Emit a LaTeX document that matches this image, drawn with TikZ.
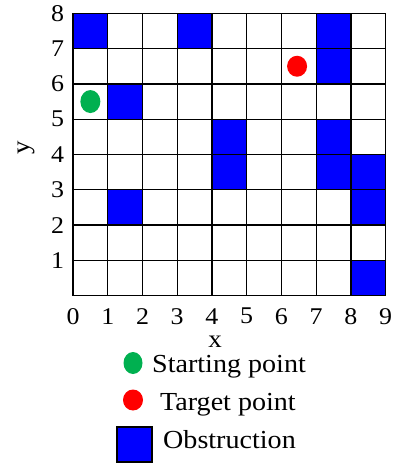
\documentclass[tikz,border=0pt]{standalone}
\usepackage{fontspec}
\setmainfont{Liberation Serif}
\newfontfamily\labfont[FakeStretch=1.08]{Liberation Serif}
\definecolor{obsblue}{RGB}{0,0,255}
\definecolor{startgreen}{RGB}{0,176,80}
\definecolor{targetred}{RGB}{255,0,0}
\tikzset{
  obs/.style={fill=obsblue},
  gridline/.style={line width=1.3pt, black, line cap=rect},
  ticklab/.style={inner sep=0pt, font=\labfont\fontsize{24}{24}\selectfont},
  axislab/.style={inner sep=0pt, text height=9pt, text depth=0pt, font=\labfont\fontsize{25}{25}\selectfont},
  legtext/.style={inner sep=0pt, anchor=base west, font=\labfont\fontsize{26}{26}\selectfont},
}
\begin{document}
\begin{tikzpicture}[x=1pt,y=-1pt]
\useasboundingbox (0,0) rectangle (396,465);
\begin{scope}[shift={(73,295.7)}, x=34.74pt, y=35.3pt]
  \foreach \i/\j in {0/7,3/7,7/7,7/6,1/5,4/4,4/3,7/4,7/3,8/3,8/2,1/2,8/0}
    \fill[obs] (\i,\j) rectangle +(1,1);
  \foreach \i in {0,...,9}
    \draw[gridline] (\i,0) -- (\i,8);
  \foreach \j in {0,...,8}
    \draw[gridline] (0,\j) -- (9,\j);
  \fill[startgreen] (0.5,5.5) ellipse [x radius=10pt, y radius=11.5pt];
  \fill[targetred] (6.45,6.5) ellipse [x radius=10pt, y radius=10.5pt];
  \foreach \i in {0,...,9}
    \node[ticklab] (xt\i) at (\i,-0.58) {\i};
  \foreach \j in {1,...,8}
    \node[ticklab] (yt\j) at (-0.44,\j) {\j};
\end{scope}
\node[axislab, anchor=base] (xlab) at (215,347.5) {x};
\node[axislab, rotate=90] (ylab) at (25,148) {y};
% legend
\fill[startgreen] (133,363) ellipse [x radius=9.5pt, y radius=11pt];
\node[legtext] (lstart) at (152,372) {Starting point};
\fill[targetred] (133,400) ellipse [x radius=10pt, y radius=10.5pt];
\node[legtext] (ltarget) at (160,410) {Target point};
\draw[fill=obsblue, line width=1.3pt] (117,427) rectangle (152,462);
\node[legtext] (lobs) at (163,448) {Obstruction};
\end{tikzpicture}
\end{document}
